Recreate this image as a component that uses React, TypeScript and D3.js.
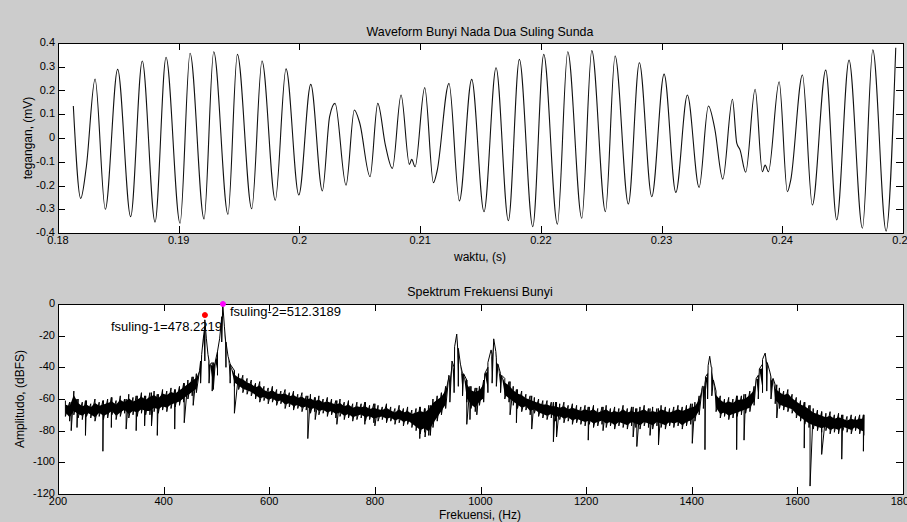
import React, { useEffect, useRef } from "react";
import * as d3 from "d3";

const W = 907;
const H = 522;
const FONT = "'Liberation Sans', Arial, sans-serif";

// waveform: peaks, troughs and shoulders (time in s, voltage in mV)
const waveT = [
  0.18127, 0.18188, 0.18235, 0.18307, 0.18392, 0.18494, 0.18602, 0.18698, 0.18804, 0.18895,
  0.19011, 0.19094, 0.1921, 0.1929, 0.19408, 0.19486, 0.19605, 0.1969, 0.198, 0.19889,
  0.19995, 0.20094, 0.2019, 0.2025, 0.20295, 0.20386, 0.20455, 0.205, 0.20585, 0.20649,
  0.20712, 0.2077, 0.20842, 0.20911, 0.2093, 0.20958, 0.21038, 0.2111, 0.2114, 0.21239,
  0.21325, 0.21427, 0.21529, 0.21629, 0.21731, 0.21822, 0.21933, 0.22024, 0.22137, 0.22223,
  0.22339, 0.22422, 0.22535, 0.22615, 0.22725, 0.22816, 0.22919, 0.23021, 0.23118, 0.23214,
  0.23311, 0.23388, 0.2344, 0.23507, 0.23587, 0.23623, 0.2365, 0.23697, 0.23775, 0.23835,
  0.23858, 0.23885, 0.23974, 0.24042, 0.2407, 0.24167, 0.24249, 0.2436, 0.24451, 0.24553,
  0.24664, 0.2475, 0.2486, 0.2494,
];
const waveV = [
  0.135, -0.254, -0.12, 0.248, -0.3, 0.289, -0.331, 0.324, -0.354, 0.34,
  -0.359, 0.357, -0.341, 0.363, -0.321, 0.352, -0.298, 0.324, -0.262, 0.291,
  -0.24, 0.226, -0.223, 0.09, 0.146, -0.199, 0.118, 0.062, -0.163, 0.146,
  -0.03, -0.128, 0.181, -0.111, -0.09, -0.121, 0.212, -0.188, -0.14, 0.23,
  -0.265, 0.247, -0.31, 0.296, -0.348, 0.331, -0.373, 0.352, -0.363, 0.363,
  -0.338, 0.368, -0.31, 0.345, -0.278, 0.317, -0.247, 0.269, -0.229, 0.181,
  -0.208, 0.135, 0.041, -0.173, 0.163, -0.022, -0.05, -0.144, 0.205, -0.142,
  -0.114, -0.142, 0.237, -0.226, -0.177, 0.265, -0.282, 0.286, -0.345, 0.328,
  -0.38, 0.371, -0.392, 0.38,
];
const waveXTicks = [0.18, 0.19, 0.2, 0.21, 0.22, 0.23, 0.24, 0.25];
const waveYTicks = [-0.4, -0.3, -0.2, -0.1, 0, 0.1, 0.2, 0.3, 0.4];

// spectrum: top / bottom of the noisy band, one reading every 8 Hz from 214 Hz
const specStart = 214;
const specStep = 8;
const specHi = [
  -61, -62, -55, -60, -62, -61, -63, -60, -62, -61,
  -60, -59, -61, -58, -60, -57, -59, -58, -56, -58,
  -56, -55, -57, -54, -55, -53, -54, -52, -50, -48,
  -46, -44, -36, -14, -36, -37, -30, -8, -26, -38,
  -42, -44, -45, -47, -48, -50, -49, -52, -53, -52,
  -54, -55, -54, -56, -55, -57, -56, -58, -57, -59,
  -58, -60, -59, -60, -61, -60, -62, -61, -63, -62,
  -63, -62, -64, -63, -64, -65, -63, -65, -66, -64,
  -66, -65, -67, -66, -65, -66, -64, -60, -58, -56,
  -52, -46, -40, -34, -44, -48, -52, -53, -52, -48,
  -40, -32, -34, -44, -47, -49, -52, -54, -55, -57,
  -58, -59, -60, -61, -61, -62, -62, -63, -62, -64,
  -63, -64, -65, -64, -65, -64, -66, -65, -64, -66,
  -65, -66, -64, -66, -65, -66, -65, -64, -66, -65,
  -66, -64, -65, -66, -65, -64, -65, -64, -63, -62,
  -58, -52, -44, -40, -55, -58, -60, -59, -60, -58,
  -58, -57, -55, -52, -45, -38, -38, -46, -51, -53,
  -55, -54, -57, -59, -61, -62, -64, -66, -67, -68,
  -69, -68, -70, -69, -70, -71, -70, -71, -70, -70,
];
const specLo = [
  -71, -74, -70, -72, -73, -71, -72, -74, -71, -73,
  -72, -70, -73, -71, -69, -72, -70, -71, -69, -70,
  -70, -68, -69, -67, -68, -66, -65, -64, -62, -60,
  -58, -56, -50, -36, -50, -54, -45, -24, -40, -50,
  -52, -54, -56, -57, -58, -60, -62, -61, -63, -62,
  -64, -63, -66, -65, -67, -66, -68, -67, -69, -68,
  -70, -69, -71, -70, -72, -71, -73, -72, -74, -73,
  -72, -74, -73, -75, -74, -73, -75, -74, -76, -75,
  -77, -76, -78, -80, -82, -81, -83, -78, -74, -70,
  -66, -62, -56, -52, -58, -62, -66, -68, -64, -62,
  -56, -50, -52, -56, -60, -62, -64, -66, -68, -67,
  -70, -69, -71, -72, -73, -72, -74, -73, -75, -74,
  -76, -75, -76, -77, -76, -78, -77, -76, -78, -77,
  -79, -77, -78, -79, -77, -78, -79, -77, -78, -79,
  -77, -78, -79, -77, -78, -77, -79, -77, -76, -74,
  -70, -66, -60, -58, -68, -72, -71, -73, -72, -71,
  -70, -69, -68, -64, -60, -56, -55, -60, -63, -66,
  -67, -68, -69, -72, -74, -76, -78, -79, -80, -81,
  -80, -82, -81, -82, -80, -81, -82, -80, -82, -83,
];
// narrow resonance ridges (Hz, dBFS)
const ridgeF = [
  468, 472, 475, 478, 481, 484, 488,
  498, 502, 506, 509, 512, 515, 518, 522, 526,
  940, 946, 951, 955, 958, 962, 968,
  1008, 1014, 1020, 1025, 1029, 1033, 1040,
  1420, 1426, 1431, 1434, 1437, 1441,
  1522, 1528, 1534, 1539, 1543, 1548, 1554,
];
const ridgeDb = [
  -42, -32, -22, -10, -22, -32, -38,
  -36, -30, -22, -12, 0, -14, -24, -33, -38,
  -45, -36, -27, -19, -28, -38, -44,
  -44, -37, -29, -22, -30, -38, -45,
  -52, -46, -39, -33, -40, -48,
  -47, -41, -35, -31, -37, -43, -47,
];
// deep downward spikes (Hz, dBFS)
const spikeF = [
  225, 236, 252, 285, 301, 329, 348, 364, 377, 388, 421, 439, 456, 492, 534,
  673, 687, 728, 781, 800, 885, 895, 905, 974, 980, 993, 1056, 1068, 1097, 1138,
  1144, 1204, 1232, 1289, 1296, 1321, 1337, 1401, 1425, 1485, 1499, 1561, 1613, 1624,
  1646, 1684, 1725,
];
const spikeDb = [
  -80, -78, -83, -93, -78, -79, -80, -77, -77, -83, -79, -75, -64, -55, -69,
  -85, -73, -76, -76, -77, -85, -84, -83, -76, -73, -70, -70, -75, -79, -87,
  -84, -86, -80, -84, -90, -83, -89, -88, -92, -92, -86, -72, -91, -115,
  -95, -98, -93,
];
const peakF = [478.2219, 512.3189];
const peakDb = [-7, 0];
const peakColor = ["#ff0000", "#ff00ff"];
const peakLabel = ["fsuling-1=478.2219", "fsuling-2=512.3189"];
const specXTicks = [200, 400, 600, 800, 1000, 1200, 1400, 1600, 1800];
const specYTicks = [-120, -100, -80, -60, -40, -20, 0];

const fmt = (v: number) => String(+v.toFixed(3));

function drawAxes(g: any, x: any, y: any, xt: number[], yt: number[]) {
  const [x0, x1] = x.range();
  const [y0, y1] = y.range();
  const tl = 7;
  g.append("rect")
    .attr("x", x0 + 0.5)
    .attr("y", y1 + 0.5)
    .attr("width", x1 - x0)
    .attr("height", y0 - y1)
    .attr("fill", "none")
    .attr("stroke", "#000");
  const t = g.append("g").attr("stroke", "#000").attr("stroke-width", 1);
  xt.forEach((v) => {
    const px = Math.round(x(v)) + 0.5;
    t.append("line").attr("x1", px).attr("x2", px).attr("y1", y0).attr("y2", y0 - tl);
    t.append("line").attr("x1", px).attr("x2", px).attr("y1", y1).attr("y2", y1 + tl);
  });
  yt.forEach((v) => {
    const py = Math.round(y(v)) + 0.5;
    t.append("line").attr("y1", py).attr("y2", py).attr("x1", x0).attr("x2", x0 + tl);
    t.append("line").attr("y1", py).attr("y2", py).attr("x1", x1).attr("x2", x1 - tl);
  });
  const lab = g.append("g").attr("font-family", FONT).attr("font-size", 11).attr("fill", "#000");
  xt.forEach((v) => {
    lab.append("text").attr("x", x(v)).attr("y", y0 + 11).attr("text-anchor", "middle").text(fmt(v));
  });
  yt.forEach((v) => {
    lab.append("text")
      .attr("x", x0 - 3)
      .attr("y", y(v) + 3)
      .attr("text-anchor", "end")
      .text(fmt(v));
  });
}

export default function App() {
  const svgRef = useRef<SVGSVGElement>(null);

  useEffect(() => {
    const svg = d3.select(svgRef.current);
    svg.selectAll("*").remove();

    svg.append("rect").attr("width", W).attr("height", H).attr("fill", "#cccccc");

    // ---- top: waveform
    const x1 = d3.scaleLinear().domain([0.18, 0.25]).range([58, 903]);
    const y1 = d3.scaleLinear().domain([-0.4, 0.4]).range([233, 43]);
    const top = svg.append("g");
    top.append("rect").attr("x", 58).attr("y", 43).attr("width", 845).attr("height", 190).attr("fill", "#fff");

    const line = d3
      .line<number>()
      .x((_, i) => x1(waveT[i]))
      .y((d) => y1(d))
      .curve(d3.curveMonotoneX);
    top.append("path")
      .attr("d", line(waveV))
      .attr("fill", "none")
      .attr("stroke", "#111")
      .attr("stroke-width", 1.1);
    drawAxes(top, x1, y1, waveXTicks, waveYTicks);

    top.append("text")
      .attr("x", 480).attr("y", 36).attr("text-anchor", "middle")
      .attr("font-family", FONT).attr("font-size", 12.4)
      .text("Waveform Bunyi Nada Dua Suling Sunda");
    top.append("text")
      .attr("x", 480).attr("y", 261).attr("text-anchor", "middle")
      .attr("font-family", FONT).attr("font-size", 12)
      .text("waktu, (s)");
    top.append("text")
      .attr("transform", `translate(32,138) rotate(-90)`)
      .attr("text-anchor", "middle")
      .attr("font-family", FONT).attr("font-size", 12)
      .text("tegangan, (mV)");

    // ---- bottom: spectrum
    const x2 = d3.scaleLinear().domain([200, 1800]).range([58, 903]);
    const y2 = d3.scaleLinear().domain([-120, 0]).range([494, 304]);
    const bot = svg.append("g");
    bot.append("rect").attr("x", 58).attr("y", 304).attr("width", 845).attr("height", 190).attr("fill", "#fff");

    type Knot = { f: number; hi: number; lo: number };
    const band: Knot[] = specHi.map((h, i) => ({ f: specStart + i * specStep, hi: h, lo: specLo[i] }));
    ridgeF.forEach((f, i) => band.push({ f, hi: ridgeDb[i], lo: ridgeDb[i] }));
    band.sort((a, b) => a.f - b.f);

    const knots: Knot[] = band.slice();
    spikeF.forEach((f, i) => {
      const j = Math.max(0, Math.min(specHi.length - 1, Math.round((f - specStart) / specStep)));
      knots.push({ f, hi: specHi[j], lo: spikeDb[i] });
    });
    knots.sort((a, b) => a.f - b.f);

    // solid core of the noise band
    const inset = (k: Knot) => Math.min(2.5, (k.hi - k.lo) / 4);
    const area = d3
      .area<Knot>()
      .x((k) => x2(k.f))
      .y0((k) => y2(k.lo + inset(k)))
      .y1((k) => y2(k.hi - inset(k)));
    bot.append("path").attr("d", area(band)).attr("fill", "#000");

    // hairline trace reaching the band extremes
    const p = d3.path();
    knots.forEach((k, i) => {
      if (i === 0) p.moveTo(x2(k.f), y2(k.hi));
      else p.lineTo(x2(k.f), y2(k.hi));
      p.lineTo(x2(k.f), y2(k.lo));
    });
    bot.append("path")
      .attr("d", p.toString())
      .attr("fill", "none")
      .attr("stroke", "#000")
      .attr("stroke-width", 1);

    drawAxes(bot, x2, y2, specXTicks, specYTicks);

    peakF.forEach((f, i) => {
      bot.append("circle")
        .attr("cx", x2(f)).attr("cy", y2(peakDb[i])).attr("r", 2.5)
        .attr("fill", peakColor[i]).attr("stroke", peakColor[i]);
    });
    bot.append("text")
      .attr("x", x2(peakF[0]) + 17).attr("y", y2(peakDb[0]) + 16)
      .attr("text-anchor", "end")
      .attr("font-family", FONT).attr("font-size", 13)
      .text(peakLabel[0]);
    bot.append("text")
      .attr("x", x2(peakF[1]) + 7).attr("y", y2(peakDb[1]) + 12)
      .attr("font-family", FONT).attr("font-size", 13)
      .text(peakLabel[1]);

    bot.append("text")
      .attr("x", 480).attr("y", 296).attr("text-anchor", "middle")
      .attr("font-family", FONT).attr("font-size", 12.4)
      .text("Spektrum Frekuensi Bunyi");
    bot.append("text")
      .attr("x", 480).attr("y", 519).attr("text-anchor", "middle")
      .attr("font-family", FONT).attr("font-size", 12)
      .text("Frekuensi, (Hz)");
    bot.append("text")
      .attr("transform", `translate(24,399) rotate(-90)`)
      .attr("text-anchor", "middle")
      .attr("font-family", FONT).attr("font-size", 12)
      .text("Amplitudo, (dBFS)");
  }, []);

  return (
    <svg
      ref={svgRef}
      width={W}
      height={H}
      style={{ position: "absolute", left: 0, top: 0, display: "block" }}
    />
  );
}
